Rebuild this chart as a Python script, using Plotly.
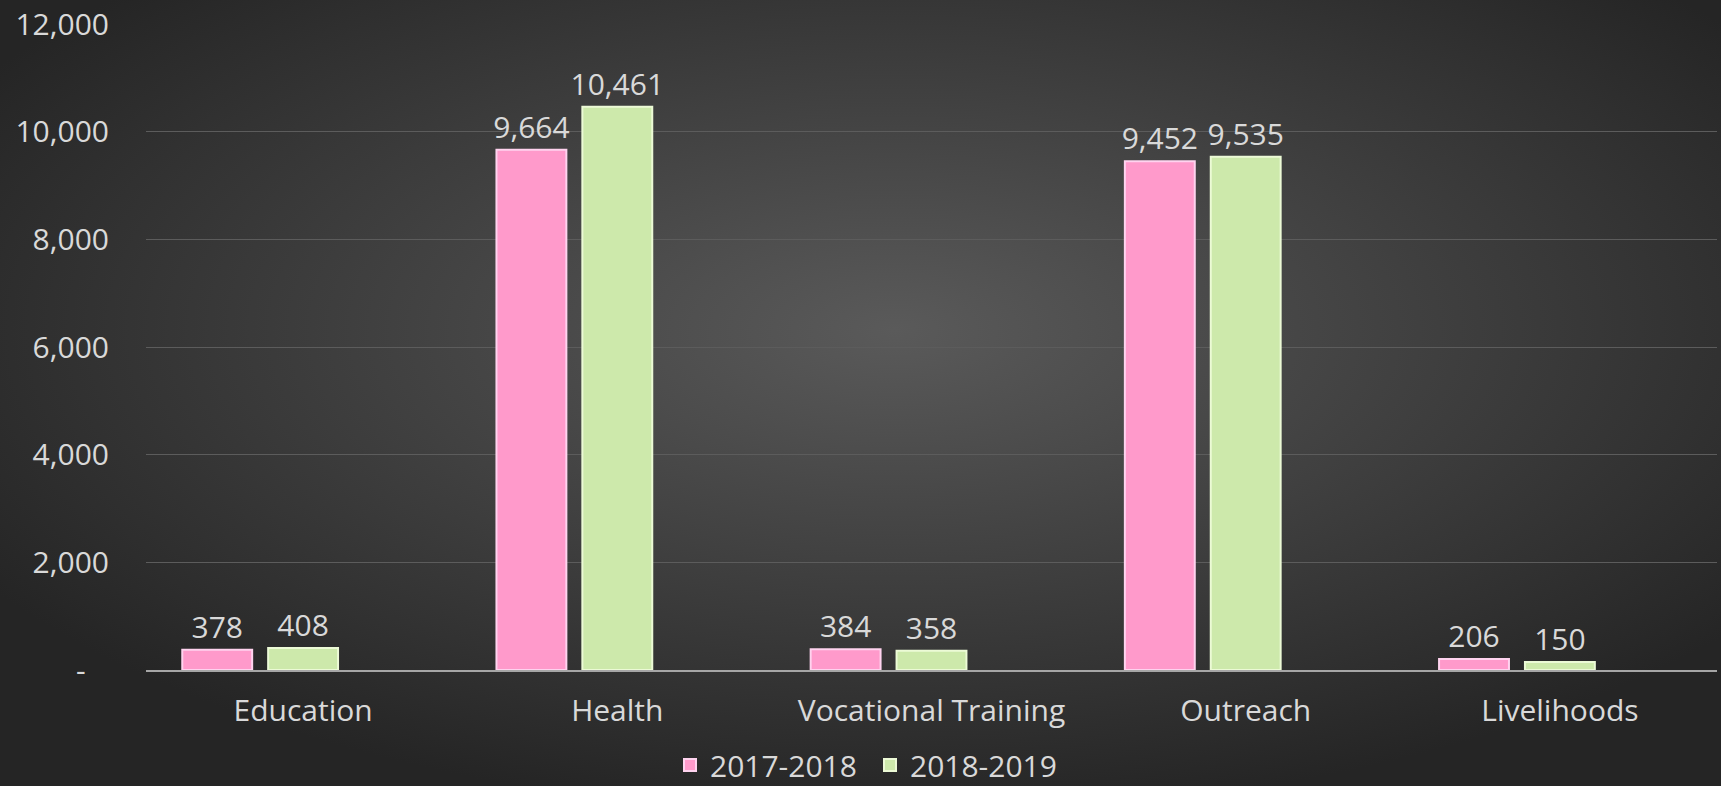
import base64
import plotly.graph_objects as go

categories = ["Education", "Health", "Vocational Training", "Outreach", "Livelihoods"]
series_names = ["2017-2018", "2018-2019"]
values_2017 = [378, 9664, 384, 9452, 206]
values_2018 = [408, 10461, 358, 9535, 150]
tick_vals = [0, 2000, 4000, 6000, 8000, 10000, 12000]
tick_text = ["-\u00a0\u00a0\u00a0", "2,000", "4,000", "6,000", "8,000", "10,000", "12,000"]

W, H = 1721, 786
ML, MR, MT, MB = 146, 4, 24, 116
pw, ph = W - ML - MR, H - MT - MB

svg = (
    "<svg xmlns='http://www.w3.org/2000/svg' width='1721' height='786'>"
    "<defs><radialGradient id='g' cx='52%' cy='42%' r='62%'>"
    "<stop offset='0' stop-color='#5a5a5a'/><stop offset='1' stop-color='#252525'/>"
    "</radialGradient></defs><rect width='100%' height='100%' fill='url(#g)'/></svg>"
)
src = "data:image/svg+xml;base64," + base64.b64encode(svg.encode()).decode()

FONT = "Open Sans"
TXT = "#d9d9d9"
FS = 30

fig = go.Figure()
fig.add_trace(go.Bar(
    x=categories, y=values_2017, name=series_names[0],
    marker=dict(color="#ff9acb", line=dict(color="#ffd3ef", width=2)),
    text=[f"{v:,}" for v in values_2017], textposition="outside", constraintext="none",
    textfont=dict(color=TXT, size=FS, family=FONT), cliponaxis=False,
))
fig.add_trace(go.Bar(
    x=categories, y=values_2018, name=series_names[1],
    marker=dict(color="#cde9ab", line=dict(color="#ecfad6", width=2)),
    text=[f"{v:,}" for v in values_2018], textposition="outside", constraintext="none",
    textfont=dict(color=TXT, size=FS, family=FONT), cliponaxis=False,
))
fig.add_trace(go.Bar(
    x=categories, y=[None] * len(categories), name="", showlegend=False,
    hoverinfo="skip",
))

fig.update_layout(
    width=W, height=H,
    margin=dict(l=ML, r=MR, t=MT, b=MB, autoexpand=False),
    paper_bgcolor="#333333", plot_bgcolor="rgba(0,0,0,0)",
    font=dict(family=FONT, color=TXT, size=FS),
    barmode="group", bargap=0.18, bargroupgap=0.186,
    showlegend=True,
    legend=dict(orientation="h", x=(870 - ML) / pw, xanchor="center",
                y=-(765 - (H - MB)) / ph, yanchor="middle",
                font=dict(size=FS, color=TXT), itemsizing="constant",
                entrywidth=155, entrywidthmode="pixels",
                bgcolor="rgba(0,0,0,0)", traceorder="normal"),
    images=[dict(source=src, xref="paper", yref="paper",
                 x=-ML / pw, y=1 + MT / ph, sizex=W / pw, sizey=H / ph,
                 xanchor="left", yanchor="top", sizing="stretch", layer="below")],
)
fig.update_yaxes(range=[0, 12000], tickvals=tick_vals, ticktext=tick_text,
                 showgrid=True, gridcolor="#5c5c5c", gridwidth=1,
                 zeroline=False, showline=False, ticks="", ticklabelstandoff=36,
                 tickfont=dict(size=FS, color=TXT))
fig.update_xaxes(showline=True, linecolor="#a6a6a6", linewidth=2, ticks="",
                 tickfont=dict(size=FS, color=TXT), ticklabelstandoff=13)

fig.write_html("out.html", config={"displayModeBar": False},
               post_script="document.body.style.margin='0';"
                           "document.body.style.overflow='hidden';"
                           "document.documentElement.style.overflow='hidden';"
                           "document.body.style.background='#252525';")
